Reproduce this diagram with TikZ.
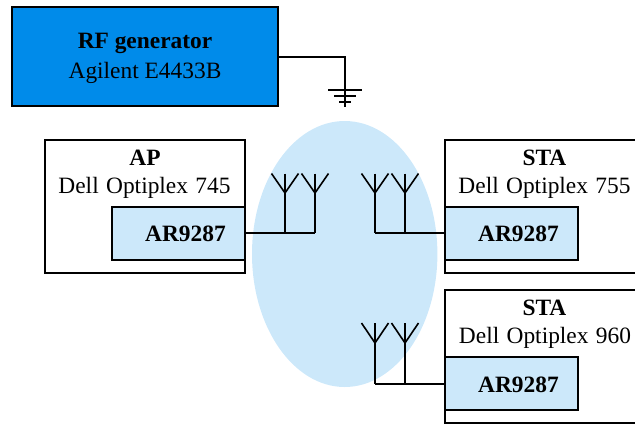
\documentclass[tikz,border=0pt]{standalone}
\usepackage{fontspec}
\setmainfont{Liberation Serif}
\definecolor{rfblue}{HTML}{008BEA}
\definecolor{lightblue}{HTML}{CCE8FA}
\newcommand{\wsp}{\hspace{7.4pt}}
\tikzset{
  box/.style={draw=black,line width=1.5pt,inner sep=0pt,outer sep=0pt,anchor=north west},
  lab/.style={font=\fontsize{23.4}{26}\selectfont,inner sep=0pt,anchor=base,text=black},
  wire/.style={draw=black,line width=1.6pt},
}
\begin{document}
\begin{tikzpicture}[x=1pt,y=-1pt]
\useasboundingbox (0,0) rectangle (635,424);
\clip (0,0) rectangle (635,424);
\fill[lightblue] (344.7,254) ellipse [x radius=92.7,y radius=133];
% boxes
\node[box,fill=rfblue,minimum width=266pt,minimum height=99pt] (rf) at (12,7) {};
\node[box,minimum width=200pt,minimum height=133pt] (ap) at (45,140) {};
\node[box,minimum width=210pt,minimum height=133pt] (sta1) at (445,140) {};
\node[box,minimum width=210pt,minimum height=133pt] (sta2) at (445,290) {};
\node[box,fill=lightblue,minimum width=133pt,minimum height=53pt] (ar0) at (112,207) {};
\node[box,fill=lightblue,minimum width=133pt,minimum height=53pt] (ar1) at (445,207) {};
\node[box,fill=lightblue,minimum width=133pt,minimum height=53pt] (ar2) at (445,357) {};
% labels
\node[lab] (t1) at (145,48) {\textbf{RF generator}};
\node[lab] (t2) at (145,78) {Agilent E4433B};
\node[lab] (t3) at (145,165) {\textbf{AP}};
\node[lab] (t4) at (144.5,193) {Dell\wsp Optiplex\wsp 745};
\node[lab] (t5) at (185.5,241) {\textbf{AR9287}};
\node[lab] (t6) at (544.5,165) {\textbf{STA}};
\node[lab] (t7) at (544.5,193) {Dell\wsp Optiplex\wsp 755};
\node[lab] (t8) at (518.5,241) {\textbf{AR9287}};
\node[lab] (t9) at (544.5,315) {\textbf{STA}};
\node[lab] (t10) at (545,343) {Dell\wsp Optiplex\wsp 960};
\node[lab] (t11) at (518.5,392) {\textbf{AR9287}};
% ground
\coordinate (gc) at (345,57);
\coordinate (ge) at (345,107);
\draw[wire] (rf.east |- gc) -- (gc) -- (ge);
\draw[wire] (328,90) -- (362,90);
\draw[wire] (334,96) -- (356,96);
\draw[wire] (339,102) -- (351,102);
% antennas
\foreach \x/\t/\j/\b in {285/173.5/193/233,315/173.5/193/233,375/173.5/193/233,405/173.5/193/233,375/323/343/384,405/323/343/384}{
  \draw[wire,line join=round] (\x-13.5,\t) -- (\x,\j) -- (\x+13.5,\t);
  \draw[wire] (\x,\t) -- (\x,\b);
}
\coordinate (a0) at (315,233);
\coordinate (a1) at (375,233);
\coordinate (a2) at (375,384);
\draw[wire] (ar0.east |- a0) -- (a0);
\draw[wire] (a1) -- (ar1.west |- a1);
\draw[wire] (a2) -- (ar2.west |- a2);
\end{tikzpicture}
\end{document}
